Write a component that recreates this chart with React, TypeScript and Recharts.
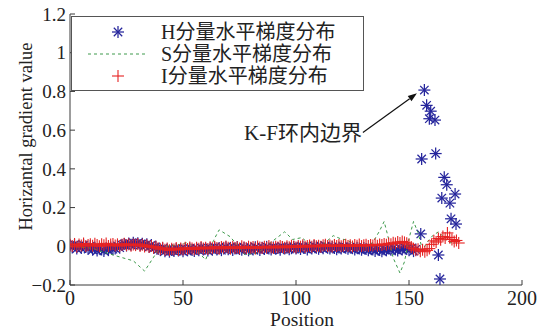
import React from 'react';
import { ComposedChart, Scatter, XAxis, YAxis, ReferenceLine, ReferenceDot } from 'recharts';

// ---------- data ----------
const xTicks = [0, 50, 100, 150, 200];
const yTicks = [-0.2, 0, 0.2, 0.4, 0.6, 0.8, 1, 1.2];

// H component, dense band at positions 0..153
const hBand = [
  0.004, -0.006, 0.008, -0.012, 0.002, -0.009, 0.006, -0.004, -0.014, 0.001,
  -0.018, -0.008, -0.022, -0.012, -0.016, -0.024, -0.01, -0.02, -0.006, -0.015,
  -0.011, 0.002, -0.007, 0.006, 0.012, 0.004, 0.015, 0.008, 0.018, 0.01,
  0.016, 0.007, 0.013, 0.004, 0.01, -0.002, 0.006, -0.008, -0.003, -0.014,
  -0.02, -0.012, -0.025, -0.017, -0.028, -0.019, -0.024, -0.014, -0.022, -0.016,
  -0.026, -0.015, -0.021, -0.011, -0.019, -0.024, -0.013, -0.02, -0.009, -0.017,
  -0.012, -0.022, -0.01, -0.018, -0.006, -0.016, -0.009, -0.02, -0.012, -0.005,
  -0.015, -0.008, -0.019, -0.011, -0.004, -0.014, -0.018, -0.007, -0.013, -0.021,
  -0.01, -0.016, -0.005, -0.012, -0.019, -0.008, -0.014, -0.003, -0.011, -0.017,
  -0.006, -0.013, -0.009, -0.018, -0.004, -0.012, -0.007, -0.015, -0.01, -0.002,
  -0.011, -0.006, -0.014, -0.003, -0.009, -0.016, -0.005, -0.012, 0.001, -0.008,
  -0.013, -0.004, -0.01, 0.002, -0.007, -0.012, -0.003, -0.009, -0.015, -0.006,
  -0.011, -0.002, -0.008, -0.013, -0.005, -0.01, -0.016, -0.007, -0.012, -0.018,
  -0.009, -0.014, -0.02, -0.011, -0.017, -0.024, -0.013, -0.019, -0.026, -0.015,
  -0.021, -0.012, -0.018, -0.009, -0.016, -0.022, -0.01, -0.017, -0.006, -0.014,
  -0.02, -0.011, -0.025, -0.016,
];
// H component near the K-F ring boundary
const hPeakX = [155.2, 155.6, 156.8, 157.8, 159.0, 159.6, 161.5, 161.8, 163.0, 163.7, 164.5, 165.6, 166.7, 168.1, 168.6, 170.4, 170.8];
const hPeakY = [0.064, 0.451, 0.807, 0.728, 0.659, 0.698, 0.652, 0.479, -0.045, -0.169, 0.249, 0.356, 0.318, 0.223, 0.142, 0.27, 0.115];

// S component (dashed line)
const sX = [0, 5, 10, 14.6, 16.3, 22, 28, 33, 36.8, 38.4, 42, 47, 52, 56, 60, 63.5, 66, 70.8, 74, 77.5, 82.6, 86, 90, 95, 98.5, 102.6, 105, 110, 113, 116.5, 119.5, 123, 126, 128, 131, 134, 137, 139, 140.5, 143, 146, 148, 150, 152, 154, 156, 158, 160, 163, 166, 168, 170, 172];
const sY = [0, -0.005, -0.01, -0.03, -0.035, -0.055, -0.075, -0.128, -0.06, -0.03, 0, 0.005, 0.02, -0.02, -0.07, 0.03, 0.085, 0.05, 0.007, -0.045, -0.035, -0.01, 0.03, 0.075, 0.035, 0.045, 0.02, -0.01, 0.02, 0.055, 0.04, 0.03, 0.01, 0, -0.005, 0.02, 0.08, 0.128, 0.06, -0.06, -0.138, -0.08, 0.04, 0.128, 0.07, -0.02, 0.02, 0.05, 0.075, 0.04, 0.018, 0.02, 0.03];

// I component, positions 0..172
const iBand = [
  0.008, 0.002, 0.012, -0.003, 0.009, 0.004, 0.014, 0.001, 0.007, 0.011,
  0.003, 0.013, 0.006, 0.0, 0.01, 0.005, 0.015, 0.002, 0.009, 0.012,
  0.004, 0.01, 0.001, 0.008, 0.013, 0.005, 0.011, 0.003, 0.009, 0.006,
  0.012, 0.002, 0.008, -0.001, 0.005, -0.004, 0.001, -0.007, -0.002, -0.01,
  -0.015, -0.008, -0.018, -0.011, -0.021, -0.013, -0.017, -0.009, -0.019, -0.012,
  -0.016, -0.008, -0.014, -0.006, -0.012, -0.017, -0.007, -0.013, -0.004, -0.011,
  -0.008, -0.014, -0.005, -0.01, -0.002, -0.009, -0.013, -0.004, -0.008, -0.001,
  -0.007, -0.012, -0.003, -0.009, -0.005, -0.011, 0.0, -0.006, -0.01, -0.002,
  -0.008, -0.004, -0.011, -0.001, -0.006, -0.009, -0.003, -0.007, 0.001, -0.005,
  -0.009, -0.002, -0.006, 0.002, -0.004, -0.008, 0.0, -0.005, 0.003, -0.003,
  -0.006, 0.002, -0.002, 0.005, -0.004, 0.001, 0.004, -0.003, 0.006, 0.0,
  0.003, -0.002, 0.005, 0.008, 0.001, 0.004, -0.001, 0.006, 0.002, 0.007,
  0.0, 0.004, 0.008, 0.002, 0.005, -0.001, 0.006, 0.003, 0.009, 0.001,
  0.005, 0.008, 0.002, 0.007, 0.004, 0.01, 0.003, 0.009, 0.006, 0.012,
  0.008, 0.015, 0.011, 0.018, 0.014, 0.022, 0.017, 0.025, 0.02, 0.016,
  0.008, -0.004, -0.012, -0.02, -0.015, -0.025, -0.018, -0.028, -0.021, -0.012,
  0.01, 0.028, 0.022, 0.04, 0.034, 0.05, 0.043, 0.069, 0.046, 0.035,
  0.025, 0.03, 0.017,
];

const legendLabels = ['H分量水平梯度分布', 'S分量水平梯度分布', 'I分量水平梯度分布'];
const annotationText = 'K-F环内边界';
const arrowFrom = { x: 129.6, y: 0.588 };
const arrowTo = { x: 153.5, y: 0.79 };
const xLabel = 'Position';
const yLabel = 'Horizantal gradient value';

// ---------- styles ----------
const BLUE = '#25259c';
const GREEN = '#3e9a4c';
const RED = '#e62222';
const AXIS = '#3a3a3a';
const TEXT = '#222';
const FONT = "'Liberation Serif', 'Noto Sans CJK SC', serif";

const hData = [
  ...hBand.map((y, i) => ({ x: i, y })),
  ...hPeakX.map((x, i) => ({ x, y: hPeakY[i] })),
];
const sData = sX.map((x, i) => ({ x, y: sY[i] }));
const iData = iBand.map((y, i) => ({ x: i, y }));

const StarMark = ({ cx, cy }: any) => {
  if (cx == null || cy == null) return <g />;
  const r = 6;
  const d = 4.2;
  return (
    <g stroke={BLUE} strokeWidth={1.25}>
      <line x1={cx - r} y1={cy} x2={cx + r} y2={cy} />
      <line x1={cx} y1={cy - r} x2={cx} y2={cy + r} />
      <line x1={cx - d} y1={cy - d} x2={cx + d} y2={cy + d} />
      <line x1={cx - d} y1={cy + d} x2={cx + d} y2={cy - d} />
    </g>
  );
};

const PlusMark = ({ cx, cy }: any) => {
  if (cx == null || cy == null) return <g />;
  const r = 6;
  return (
    <g stroke={RED} strokeWidth={1.1}>
      <line x1={cx - r} y1={cy} x2={cx + r} y2={cy} />
      <line x1={cx} y1={cy - r} x2={cx} y2={cy + r} />
    </g>
  );
};

const NoMark = () => <g />;

const ArrowShape = (props: any) => {
  const { x1, y1, x2, y2 } = props;
  if (x1 == null) return <g />;
  const ang = Math.atan2(y2 - y1, x2 - x1);
  const L = 9;
  const W = 3.2;
  const bx = x2 - L * Math.cos(ang);
  const by = y2 - L * Math.sin(ang);
  const px = -Math.sin(ang) * W;
  const py = Math.cos(ang) * W;
  return (
    <g>
      <line x1={x1} y1={y1} x2={bx} y2={by} stroke="#111" strokeWidth={1.2} />
      <polygon points={`${x2},${y2} ${bx + px},${by + py} ${bx - px},${by - py}`} fill="#111" />
    </g>
  );
};

const AnnotationText = (props: any) => {
  const { cx, cy } = props;
  if (cx == null) return <g />;
  return (
    <text
      x={cx - 1}
      y={cy + 8}
      textAnchor="end"
      fontSize={21}
      fontFamily={FONT}
      fill={TEXT}
      style={{ fontSize: '21px' }}
    >
      {annotationText}
    </text>
  );
};

const fmtY = (v: number) => (v < 0 ? `\u2212${Math.abs(v)}` : `${v}`);

const Legend = () => (
  <svg
    width={294}
    height={76}
    style={{ position: 'absolute', left: 71, top: 16, overflow: 'visible' }}
  >
    <rect x={0.5} y={0.5} width={292} height={74} fill="#fff" stroke="#555" strokeWidth={1} />
    <StarMark cx={47} cy={16} />
    <line x1={17} y1={38} x2={77} y2={38} stroke={GREEN} strokeWidth={1} strokeDasharray="3 3" />
    <PlusMark cx={47} cy={60} />
    {legendLabels.map((t, i) => (
      <text
        key={t}
        x={90}
        y={16 + i * 22 + 7}
        style={{ fontSize: '20px', fontFamily: FONT, fill: TEXT }}
      >
        {t}
      </text>
    ))}
  </svg>
);

export default function App() {
  return (
    <div style={{ position: 'absolute', left: 0, top: 0, width: 549, height: 331, background: '#fff' }}>
      <ComposedChart
        width={549}
        height={331}
        margin={{ top: 14, right: 27, bottom: 16, left: 0 }}
        style={{ fontFamily: FONT }}
      >
        <XAxis
          xAxisId="b"
          type="number"
          dataKey="x"
          domain={[0, 200]}
          ticks={xTicks}
          allowDataOverflow
          height={30}
          tickSize={-5}
          tickMargin={11}
          stroke={AXIS}
          tick={{ fill: TEXT, fontSize: 20, fontFamily: FONT }}
          label={{
            content: (p: any) => {
              const vb = p.viewBox || {};
              return (
                <text
                  x={(vb.x || 0) + (vb.width || 0) / 2 + 6}
                  y={326}
                  textAnchor="middle"
                  style={{ fontSize: '19.5px', fontFamily: FONT, fill: TEXT }}
                >
                  {xLabel}
                </text>
              );
            },
          }}
        />
        <XAxis
          xAxisId="t"
          orientation="top"
          type="number"
          dataKey="x"
          domain={[0, 200]}
          ticks={xTicks}
          allowDataOverflow
          height={0}
          tickSize={-5}
          tick={false}
          stroke={AXIS}
        />
        <YAxis
          yAxisId="l"
          type="number"
          dataKey="y"
          domain={[-0.2, 1.2]}
          ticks={yTicks}
          allowDataOverflow
          width={70}
          tickSize={-5}
          tickMargin={9}
          tickFormatter={fmtY}
          stroke={AXIS}
          tick={{ fill: TEXT, fontSize: 19, fontFamily: FONT }}
          label={{
            content: (p: any) => {
              const vb = p.viewBox || {};
              const cx = 26;
              const cy = (vb.y || 0) + (vb.height || 0) / 2 - 13;
              return (
                <text
                  x={cx}
                  y={cy}
                  transform={`rotate(-90 ${cx} ${cy})`}
                  textAnchor="middle"
                  dominantBaseline="central"
                  style={{ fontSize: '18.5px', fontFamily: FONT, fill: TEXT }}
                >
                  {yLabel}
                </text>
              );
            },
          }}
        />
        <YAxis
          yAxisId="r"
          orientation="right"
          type="number"
          dataKey="y"
          domain={[-0.2, 1.2]}
          ticks={yTicks}
          allowDataOverflow
          width={0}
          tickSize={-5}
          tick={false}
          stroke={AXIS}
        />
        <Scatter
          xAxisId="b"
          yAxisId="l"
          name="H"
          data={hData}
          dataKey="y"
          shape={StarMark}
          isAnimationActive={false}
        />
        <Scatter
          xAxisId="b"
          yAxisId="l"
          name="S"
          data={sData}
          dataKey="y"
          shape={NoMark}
          line={{ stroke: GREEN, strokeWidth: 1, strokeDasharray: '3 3' }}
          lineType="joint"
          isAnimationActive={false}
        />
        <Scatter
          xAxisId="b"
          yAxisId="l"
          name="I"
          data={iData}
          dataKey="y"
          shape={PlusMark}
          isAnimationActive={false}
        />
        <ReferenceLine
          xAxisId="b"
          yAxisId="l"
          segment={[arrowFrom, arrowTo]}
          shape={ArrowShape}
          ifOverflow="visible"
        />
        <ReferenceDot
          xAxisId="b"
          yAxisId="l"
          x={arrowFrom.x}
          y={arrowFrom.y}
          r={0}
          shape={AnnotationText}
          ifOverflow="visible"
        />
      </ComposedChart>
      <Legend />
    </div>
  );
}
